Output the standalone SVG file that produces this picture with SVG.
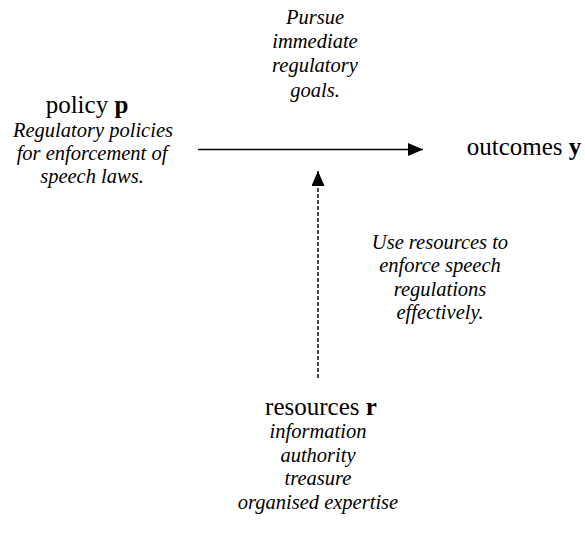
<svg xmlns="http://www.w3.org/2000/svg" width="585" height="539" viewBox="0 0 585 539">
<defs>
<style>
text{font-family:"Liberation Serif","Times New Roman",serif;fill:#000;text-anchor:middle}
.up{font-size:25px}
.it{font-size:20.5px;font-style:italic}
.b{font-weight:bold}
.line{stroke:#000;stroke-width:1.4;fill:none}
.dash{stroke-dasharray:4 2}
</style>
<marker id="ah" viewBox="0 0 15 13" refX="15" refY="6.5" markerWidth="15" markerHeight="13" markerUnits="userSpaceOnUse" orient="auto">
<path d="M0,0 L15,6.5 L0,13 Z" fill="#000"/>
</marker>
</defs>
<rect width="585" height="539" fill="#fff"/>
<g id="connectors">
<line class="line" x1="198" y1="149.5" x2="423" y2="149.5" marker-end="url(#ah)"/>
<line class="line dash" x1="318" y1="378" x2="318" y2="171" marker-end="url(#ah)"/>
</g>
<g id="label-pursue">
<text class="it" x="315" y="24">Pursue</text>
<text class="it" x="315" y="48">immediate</text>
<text class="it" x="315" y="72">regulatory</text>
<text class="it" x="315" y="97">goals.</text>
</g>
<g id="node-policy">
<text class="up" x="87" y="113">policy <tspan class="b">p</tspan></text>
<text class="it" x="93" y="137">Regulatory policies</text>
<text class="it" x="92" y="160">for enforcement of</text>
<text class="it" x="92" y="183">speech laws.</text>
</g>
<g id="node-outcomes">
<text class="up" x="524" y="155">outcomes <tspan class="b">y</tspan></text>
</g>
<g id="label-use">
<text class="it" x="440" y="249">Use resources to</text>
<text class="it" x="440" y="272">enforce speech</text>
<text class="it" x="440" y="296">regulations</text>
<text class="it" x="440" y="319">effectively.</text>
</g>
<g id="node-resources">
<text class="up" x="321" y="415">resources <tspan class="b">r</tspan></text>
<text class="it" x="318" y="438">information</text>
<text class="it" x="318" y="462">authority</text>
<text class="it" x="318" y="485">treasure</text>
<text class="it" x="318" y="509">organised expertise</text>
</g>
</svg>
